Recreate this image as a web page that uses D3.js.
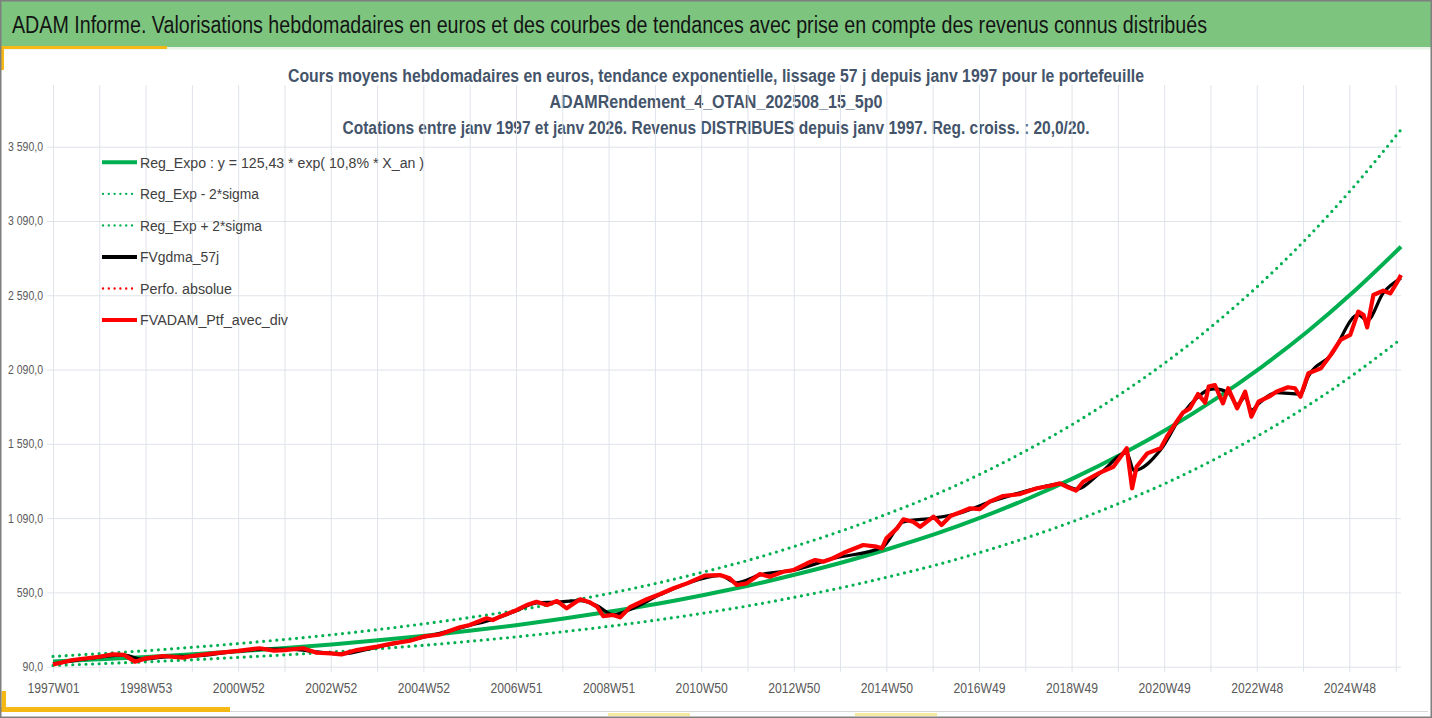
<!DOCTYPE html>
<html>
<head>
<meta charset="utf-8">
<script src="https://cdn.jsdelivr.net/npm/d3@7"></script>
<style>
  html, body { margin: 0; padding: 0; background: #fff; }
  svg { display: block; }
  text { font-family: "Liberation Sans Narrow", "Liberation Sans", Arial, sans-serif; }
</style>
</head>
<body>
<script>
// ---- categories (ISO weeks) ----
var firstYear = 1997;
var lastYear = 2026;
var longYears = [1998, 2004, 2009, 2015, 2020];   // years with a W53
var lastYearWeeks = 2;                             // 2026W01..2026W02

var weeks = [];
d3.range(firstYear, lastYear + 1).forEach(function(yr) {
  var n = yr === lastYear ? lastYearWeeks : (longYears.indexOf(yr) >= 0 ? 53 : 52);
  for (var w = 1; w <= n; w++) weeks.push(yr + 'W' + (w < 10 ? '0' + w : w));
});

var xTickLabels = ['1997W01', '1998W53', '2000W52', '2002W52', '2004W52', '2006W51', '2008W51',
  '2010W50', '2012W50', '2014W50', '2016W49', '2018W49', '2020W49', '2022W48', '2024W48'];
var yTicks = [90, 590, 1090, 1590, 2090, 2590, 3090, 3590];

// ---- trend series, one value per year start ----
var trendWeeks = ['1997W01', '1998W01', '1999W01', '2000W01', '2001W01', '2002W01', '2003W01', '2004W01',
  '2005W01', '2006W01', '2007W01', '2008W01', '2009W01', '2010W01', '2011W01', '2012W01', '2013W01',
  '2014W01', '2015W01', '2016W01', '2017W01', '2018W01', '2019W01', '2020W01', '2021W01', '2022W01',
  '2023W01', '2024W01', '2025W01', '2026W02'];
var regExpo = [125, 140, 156, 174, 194, 216, 240, 268, 299, 333, 371, 414, 461, 514, 573, 638, 712, 793,
  884, 985, 1098, 1224, 1364, 1520, 1695, 1889, 2105, 2346, 2615, 2917];
var regMinus = [98, 110, 123, 137, 153, 170, 189, 211, 235, 262, 292, 326, 363, 405, 451, 502, 560, 624,
  696, 775, 864, 963, 1073, 1196, 1334, 1487, 1657, 1846, 2058, 2296];
var regPlus = [159, 178, 198, 221, 246, 274, 305, 340, 380, 423, 471, 526, 585, 653, 728, 810, 904, 1007,
  1123, 1251, 1394, 1554, 1732, 1930, 2153, 2399, 2673, 2979, 3321, 3705];

// ---- portfolio with dividends ----
var ptfWeeks = ['1997W01', '1997W23', '1998W01', '1998W16', '1998W29', '1998W41', '1998W53', '1999W20',
  '1999W42', '1999W52', '2000W24', '2000W52', '2001W24', '2001W40', '2001W52', '2002W21', '2002W36',
  '2002W52', '2003W12', '2003W29', '2003W52', '2004W18', '2004W37', '2004W52', '2005W18', '2005W40',
  '2005W51', '2006W18', '2006W25', '2006W33', '2006W41', '2006W52', '2007W11', '2007W22', '2007W34',
  '2007W45', '2008W04', '2008W19', '2008W30', '2008W38', '2008W45', '2009W04', '2009W12', '2009W23',
  '2009W42', '2010W04', '2010W19', '2010W34', '2011W02', '2011W19', '2011W30', '2011W38', '2011W49',
  '2012W12', '2012W23', '2012W38', '2012W50', '2013W13', '2013W22', '2013W31', '2013W42', '2014W05',
  '2014W24', '2014W39', '2014W45', '2014W50', '2015W10', '2015W17', '2015W28', '2015W36', '2015W51',
  '2016W07', '2016W17', '2016W28', '2016W39', '2016W50', '2017W09', '2017W24', '2017W43', '2018W10',
  '2018W25', '2018W36', '2018W45', '2019W02', '2019W10', '2019W29', '2019W44', '2020W07', '2020W13',
  '2020W18', '2020W30', '2020W45', '2020W52', '2021W10', '2021W17', '2021W25', '2021W34', '2021W42',
  '2021W46', '2022W01', '2022W10', '2022W16', '2022W26', '2022W35', '2022W42', '2022W50', '2023W11',
  '2023W18', '2023W31', '2023W39', '2023W45', '2024W02', '2024W16', '2024W27', '2024W38', '2024W49',
  '2025W06', '2025W12', '2025W16', '2025W23', '2025W34', '2025W42', '2025W49', '2026W02'];
var ptfValues = [105, 135, 157, 173, 169, 124, 146, 162, 151, 162, 180, 196, 214, 198, 202, 214, 184,
  180, 173, 202, 225, 247, 265, 292, 308, 355, 371, 416, 404, 427, 445, 472, 505, 527, 505, 532, 483,
  544, 523, 494, 431, 438, 422, 490, 544, 579, 618, 651, 703, 707, 685, 640, 651, 714, 696, 729, 741,
  786, 808, 797, 820, 864, 909, 898, 887, 954, 1021, 1082, 1066, 1032, 1100, 1044, 1104, 1130, 1156,
  1150, 1201, 1239, 1252, 1291, 1308, 1324, 1297, 1275, 1335, 1396, 1436, 1560, 1291, 1436, 1526, 1560,
  1638, 1739, 1800, 1829, 1925, 1867, 1975, 1986, 1863, 1964, 1829, 1941, 1773, 1874, 1912, 1941, 1971,
  1964, 1907, 2065, 2098, 2188, 2289, 2323, 2480, 2457, 2374, 2592, 2621, 2603, 2671, 2726];

// ---- 57 day moving average ----
var mmWeeks = ['1997W01', '1998W01', '1998W29', '1998W49', '1999W26', '1999W52', '2000W52', '2001W32',
  '2002W10', '2002W36', '2003W12', '2003W52', '2004W52', '2005W51', '2006W25', '2006W52', '2007W22',
  '2007W45', '2008W19', '2008W38', '2009W04', '2009W23', '2010W04', '2010W34', '2011W19', '2011W38',
  '2012W12', '2012W50', '2013W42', '2014W45', '2015W17', '2015W51', '2016W28', '2017W09', '2018W10',
  '2018W36', '2019W02', '2019W29', '2020W07', '2020W15', '2020W45', '2021W17', '2021W34', '2021W46',
  '2022W01', '2022W16', '2022W26', '2022W35', '2022W42', '2022W50', '2023W18', '2023W45', '2024W02',
  '2024W27', '2025W06', '2025W16', '2025W34', '2026W02'];
var mmValues = [108, 155, 168, 140, 158, 160, 195, 208, 206, 190, 176, 222, 288, 368, 408, 468, 520, 525,
  535, 500, 440, 475, 575, 650, 705, 655, 708, 740, 818, 892, 1065, 1090, 1125, 1198, 1290, 1320, 1285,
  1392, 1530, 1410, 1550, 1795, 1905, 1955, 1960, 1935, 1855, 1905, 1815, 1860, 1935, 1925, 2045, 2185,
  2460, 2420, 2605, 2705];

var legendLabels = ['Reg_Expo : y = 125,43 * exp( 10,8% *  X_an )', 'Reg_Exp - 2*sigma', 'Reg_Exp + 2*sigma',
  'FVgdma_57j', 'Perfo. absolue', 'FVADAM_Ptf_avec_div'];

var barTitle = 'ADAM Informe. Valorisations hebdomadaires en euros et des courbes de tendances avec prise en compte des revenus connus distribués';
var chartTitles = [
  'Cours moyens hebdomadaires  en euros, tendance exponentielle, lissage 57 j depuis janv 1997 pour le portefeuille',
  'ADAMRendement_4_OTAN_202508_15_5p0',
  'Cotations entre janv 1997 et janv 2026. Revenus DISTRIBUES depuis janv 1997. Reg. croiss. : 20,0/20.'
];

// ---- layout ----
var width = 1432, height = 718;
var plotLeft = 53, plotRight = 1401, plotTop = 85, plotBottom = 666.7;
var green = '#00b050', red = '#ff0000', gridColor = '#dfe3ea';

// narrow the fallback font to the reference's condensed look
function condense(sel, factor) {
  sel.each(function() {
    var w = this.getComputedTextLength();
    d3.select(this).attr('textLength', w * factor).attr('lengthAdjust', 'spacingAndGlyphs');
  });
}

var svg = d3.select('body').append('svg')
  .attr('width', width)
  .attr('height', height);

// frame and header bar
svg.append('rect').attr('x', 0).attr('y', 0).attr('width', width).attr('height', height).attr('fill', '#fff');
svg.append('rect').attr('x', 0).attr('y', 0).attr('width', width).attr('height', 47).attr('fill', '#7dc57f');
svg.append('rect').attr('x', 0).attr('y', 47).attr('width', width).attr('height', 2.5).attr('fill', '#eaf3ea');
svg.append('rect').attr('x', 0).attr('y', 46).attr('width', 167).attr('height', 3).attr('fill', '#f4b914');
svg.append('rect').attr('x', 0).attr('y', 46).attr('width', 4).attr('height', 24).attr('fill', '#f4b914');
svg.append('rect').attr('x', 0).attr('y', 707).attr('width', 230).attr('height', 5).attr('fill', '#f4b914');
svg.append('rect').attr('x', 1.5).attr('y', 691).attr('width', 4.5).attr('height', 21).attr('fill', '#f4b914');
svg.append('rect').attr('x', 608).attr('y', 713).attr('width', 82).attr('height', 3).attr('fill', '#f3eaa0');
svg.append('rect').attr('x', 855).attr('y', 713).attr('width', 82).attr('height', 3).attr('fill', '#f3eaa0');
svg.append('line').attr('x1', 230).attr('x2', 1428).attr('y1', 711.5).attr('y2', 711.5)
  .attr('stroke', '#d6d6d6').attr('stroke-width', 1);
svg.append('rect').attr('x', 0.75).attr('y', 0.75).attr('width', width - 1.5).attr('height', height - 1.5)
  .attr('fill', 'none').attr('stroke', '#7f7f7f').attr('stroke-width', 1.5);

svg.append('text')
  .attr('x', 12).attr('y', 32.5)
  .attr('font-size', 23).attr('fill', '#141414')
  .attr('textLength', 1195).attr('lengthAdjust', 'spacingAndGlyphs')
  .text(barTitle);

var titleWidths = [856, 333, 747];
var titleY = [81.5, 108.3, 133.5];
svg.selectAll('text.ctitle')
  .data(chartTitles)
  .enter()
  .append('text')
    .attr('class', 'ctitle')
    .attr('x', 716)
    .attr('y', function(d, i) { return titleY[i]; })
    .attr('text-anchor', 'middle')
    .attr('font-size', 17.5)
    .attr('font-weight', 'bold')
    .attr('fill', '#44546a')
    .attr('textLength', function(d, i) { return titleWidths[i]; })
    .attr('lengthAdjust', 'spacingAndGlyphs')
    .text(function(d) { return d; });

// ---- scales ----
var x = d3.scalePoint().domain(weeks).range([plotLeft, plotRight]);
var y = d3.scaleLinear().domain([90, 3590]).range([plotBottom, 146.7]);

var fr = d3.formatLocale({ decimal: ',', thousands: '\u2009', grouping: [3], currency: ['', '€'] });
var yFormat = function(d) { return fr.format(',.1f')(d).replace('\u2009', ' '); };

// horizontal grid + y labels
var yAxis = svg.append('g')
  .attr('transform', 'translate(47,0)')
  .call(d3.axisLeft(y)
    .tickValues(yTicks)
    .tickFormat(yFormat)
    .tickSizeInner(-(plotRight - 47))
    .tickSizeOuter(0)
    .tickPadding(4));
yAxis.select('.domain').remove();
yAxis.selectAll('line').attr('stroke', gridColor);
yAxis.selectAll('text').attr('font-size', 12.5).attr('fill', '#595959')
  .attr('font-family', '"Liberation Sans Narrow", "Liberation Sans", Arial, sans-serif')
  .call(condense, 0.84);

// vertical grid every 52 weeks
var gridWeeks = weeks.filter(function(d, i) { return i % 52 === 0; });
var xGrid = svg.append('g')
  .attr('transform', 'translate(0,672)')
  .call(d3.axisBottom(x)
    .tickValues(gridWeeks)
    .tickFormat('')
    .tickSizeInner(-(672 - plotTop))
    .tickSizeOuter(0));
xGrid.select('.domain').remove();
xGrid.selectAll('line').attr('stroke', gridColor);

var xAxis = svg.append('g')
  .attr('transform', 'translate(0,672)')
  .call(d3.axisBottom(x)
    .tickValues(xTickLabels)
    .tickSize(0)
    .tickPadding(10.8));
xAxis.select('.domain').remove();
xAxis.selectAll('text').attr('font-size', 14.5).attr('fill', '#595959')
  .attr('font-family', '"Liberation Sans Narrow", "Liberation Sans", Arial, sans-serif')
  .call(condense, 0.84);

// ---- series ----
function pairs(keys, vals) {
  return keys.map(function(k, i) { return { week: k, value: vals[i] }; });
}

var smooth = d3.line()
  .x(function(d) { return x(d.week); })
  .y(function(d) { return y(d.value); })
  .curve(d3.curveMonotoneX);

var jagged = d3.line()
  .x(function(d) { return x(d.week); })
  .y(function(d) { return y(d.value); });

svg.append('path')
  .datum(pairs(trendWeeks, regExpo))
  .attr('d', smooth)
  .attr('fill', 'none').attr('stroke', green).attr('stroke-width', 4);

[regMinus, regPlus].forEach(function(vals) {
  svg.append('path')
    .datum(pairs(trendWeeks, vals))
    .attr('d', smooth)
    .attr('fill', 'none').attr('stroke', green).attr('stroke-width', 3.2)
    .attr('stroke-linecap', 'round').attr('stroke-dasharray', '0 6.6');
});

svg.append('path')
  .datum(pairs(mmWeeks, mmValues))
  .attr('d', smooth)
  .attr('fill', 'none').attr('stroke', '#000').attr('stroke-width', 3.2)
  .attr('stroke-linejoin', 'round');

svg.append('path')
  .datum(pairs(ptfWeeks, ptfValues))
  .attr('d', jagged)
  .attr('fill', 'none').attr('stroke', red).attr('stroke-width', 4.2)
  .attr('stroke-linejoin', 'round');

// ---- legend ----
var legendStyles = [
  { color: green, width: 4, dash: null },
  { color: green, width: 2.4, dash: '0 5.8' },
  { color: green, width: 2.4, dash: '0 5.8' },
  { color: '#000', width: 4, dash: null },
  { color: red, width: 2.4, dash: '0 5.8' },
  { color: red, width: 4, dash: null }
];
var legendWidths = [284, 119, 122, 79, 92, 148];

var legend = svg.selectAll('g.legend')
  .data(legendLabels)
  .enter()
  .append('g')
    .attr('class', 'legend')
    .attr('transform', function(d, i) { return 'translate(0,' + (162.3 + i * 31.55) + ')'; });

legend.append('line')
  .attr('x1', function(d, i) { return legendStyles[i].dash ? 103 : 102; })
  .attr('x2', 137)
  .attr('stroke', function(d, i) { return legendStyles[i].color; })
  .attr('stroke-width', function(d, i) { return legendStyles[i].width; })
  .attr('stroke-linecap', function(d, i) { return legendStyles[i].dash ? 'round' : 'butt'; })
  .attr('stroke-dasharray', function(d, i) { return legendStyles[i].dash; });

legend.append('text')
  .attr('x', 140)
  .attr('dy', '0.35em')
  .attr('font-size', 15.5)
  .attr('fill', '#404040')
  .attr('textLength', function(d, i) { return legendWidths[i]; })
  .attr('lengthAdjust', 'spacingAndGlyphs')
  .text(function(d) { return d; });
</script>
</body>
</html>
